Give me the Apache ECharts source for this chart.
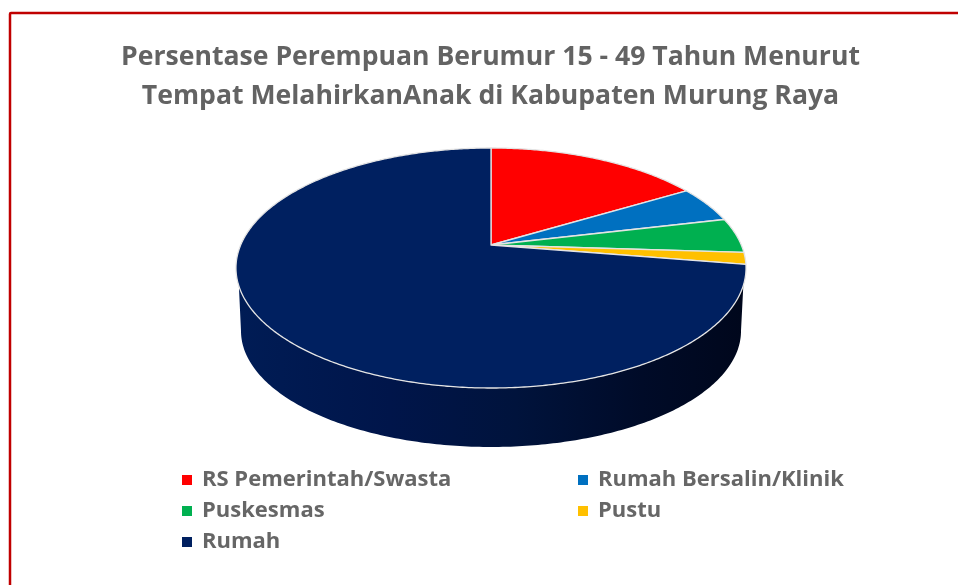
<!DOCTYPE html>
<html><head><meta charset="utf-8">
<style>html,body{margin:0;padding:0;background:#fff}#c{width:958px;height:585px}</style>
<script src="https://cdn.jsdelivr.net/npm/echarts@6/dist/echarts.min.js"></script>
</head><body><div id="c"></div>
<script>
const titleLines = ['Persentase Perempuan Berumur 15 - 49 Tahun Menurut','Tempat MelahirkanAnak di Kabupaten Murung Raya'];
const categories = ['RS Pemerintah/Swasta','Rumah Bersalin/Klinik','Puskesmas','Pustu','Rumah'];
const values = [16.4, 4.9, 4.7, 1.6, 72.4];
const colors = ['#ff0000','#0070c0','#00b050','#ffc000','#002060'];

const FONT = '"Open Sans", "Noto Sans", sans-serif';
const total = values.reduce((a,b)=>a+b,0);
const starts = values.map((_,i)=>values.slice(0,i).reduce((a,b)=>a+b,0));

// perspective projection of the pie's top disc
const P = {cx:491, cy:245, a:250.3, b:115.6, k:0.1917};
function rim(t){
  const u=Math.sin(t), v=Math.cos(t), w=1+P.k*v;
  return [P.cx+P.a*u/w, P.cy-P.b*v/w];
}
function arc(t0,t1){
  const n=Math.max(2,Math.ceil(Math.abs(t1-t0)/0.01)), pts=[];
  for(let i=0;i<=n;i++) pts.push(rim(t0+(t1-t0)*i/n));
  return pts;
}
const BOTTOM = {cx:491, cy:331, rx:250, ry:116};
const SIDE_TOP_Y = 285;

function renderSlice(i){
  return function(params, api){
    const t0=starts[i]/total*2*Math.PI, t1=(starts[i]+api.value(0))/total*2*Math.PI;
    const pts=[[P.cx,P.cy]].concat(arc(t0,t1));
    const color=api.visual('color');
    const children=[];
    if(i===values.length-1){
      const lower=arc(t0,t1).filter(p=>p[1]>=SIDE_TOP_Y);
      const bot=[];
      for(let j=0;j<=200;j++){
        const f=Math.PI*j/200;
        bot.push([BOTTOM.cx-BOTTOM.rx*Math.cos(f), BOTTOM.cy+BOTTOM.ry*Math.sin(f)]);
      }
      children.push({type:'polygon',shape:{points:lower.concat(bot)},
        style:{fill:{type:'linear',x:0,y:0,x2:1,y2:0,colorStops:[
          {offset:0,color:'#001c55'},{offset:0.3,color:'#00154a'},{offset:0.55,color:'#00133c'},{offset:0.8,color:'#000b28'},{offset:1,color:'#00071c'}]},stroke:null}});
    }
    children.push({type:'polygon',shape:{points:pts},
      style:{fill:color,stroke:'#e4e4e4',lineWidth:1.3,lineJoin:'round'}});
    return {type:'group',children};
  };
}

const series = categories.map((name,i)=>({
  type:'custom', name, data:[[values[i]]], silent:true, animation:false,
  coordinateSystem:'none', itemStyle:{color:colors[i]}, renderItem:renderSlice(i)
}));

const legendBase = {orient:'vertical', icon:'rect', itemWidth:10, itemHeight:10, itemGap:9, selectedMode:false,
  textStyle:{fontFamily:FONT,fontWeight:700,fontSize:22,color:'#666666',padding:[0,0,0,5],lineHeight:19}};

const chart = echarts.init(document.getElementById('c'),null,{renderer:'canvas'});
chart.setOption({
  backgroundColor:'#ffffff', animation:false,
  title:{text:titleLines.join('\n'),left:485.5,top:33,textAlign:'center',
    textStyle:{fontFamily:FONT,fontWeight:700,fontSize:26.6,lineHeight:39,color:'#636363'}},
  legend:[
    Object.assign({},legendBase,{left:177,top:464,data:[categories[0],categories[2],categories[4]]}),
    Object.assign({},legendBase,{left:573,top:464,data:[categories[1],categories[3]]})
  ],
  graphic:[{type:'rect',silent:true,shape:{x:10,y:13,width:1200,height:900,r:1},style:{fill:null,stroke:'#c00000',lineWidth:2.5}}],
  series
});
</script></body></html>
